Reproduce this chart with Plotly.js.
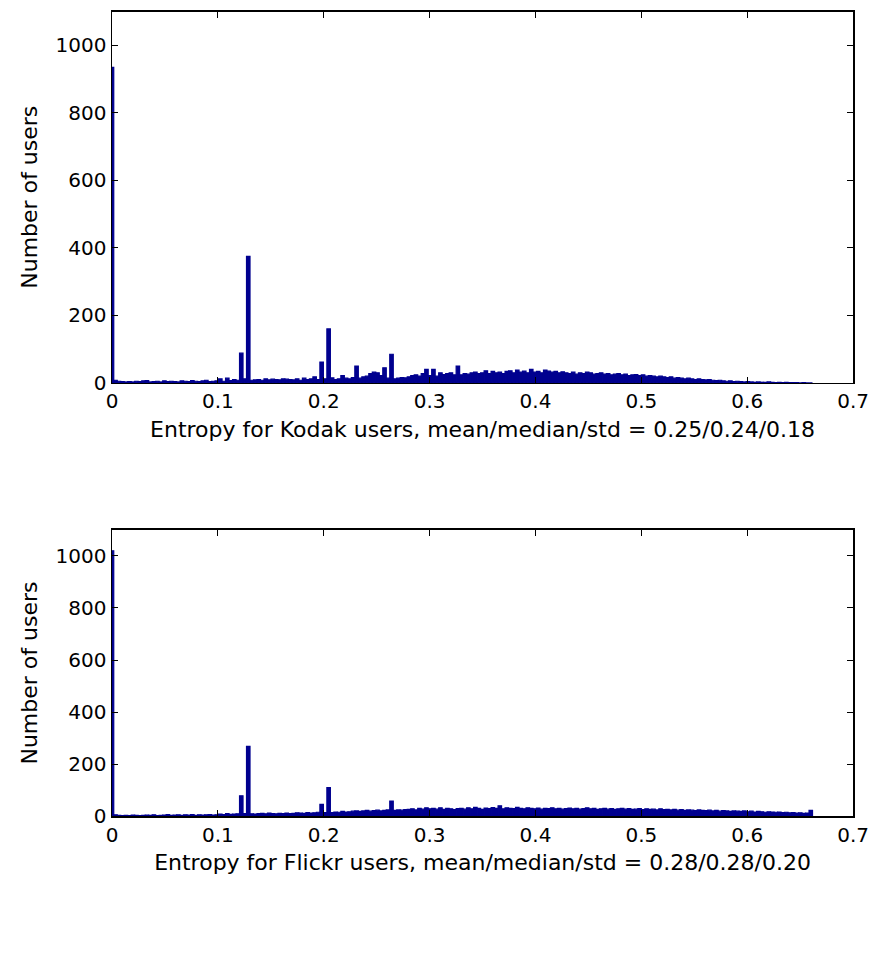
<!DOCTYPE html>
<html>
<head>
<meta charset="utf-8">
<script src="https://cdn.plot.ly/plotly-3.0.1.min.js"></script>
<style>html,body{margin:0;padding:0;background:#fff;}#chart{width:875px;height:967px;}</style>
</head>
<body>
<div id="chart"></div>
<script>
// Histogram bin width (entropy units); bin k is centred at k * binWidth
const binWidth = 0.0033;

// Kodak users: counts per bin
const kodakCounts = [
  935, 8, 5, 4, 3, 4, 3, 5, 4, 6,
  7, 3, 4, 5, 3, 6, 4, 5, 4, 3,
  6, 5, 4, 7, 5, 4, 6, 8, 4, 5,
  6, 12, 5, 14, 7, 10, 8, 88, 12, 375,
  8, 9, 10, 8, 12, 9, 11, 10, 9, 12,
  11, 10, 9, 12, 8, 14, 10, 12, 18, 10,
  62, 12, 160, 15, 10, 12, 22, 14, 12, 16,
  50, 14, 18, 20, 28, 32, 30, 22, 45, 14,
  85, 12, 14, 16, 15, 18, 22, 24, 20, 28,
  40, 22, 40, 20, 30, 25, 28, 30, 24, 50,
  24, 28, 26, 30, 32, 28, 30, 36, 28, 34,
  30, 32, 28, 34, 36, 30, 38, 32, 35, 30,
  40, 32, 34, 30, 38, 35, 32, 34, 30, 33,
  30, 28, 32, 26, 30, 28, 32, 30, 26, 28,
  30, 26, 28, 24, 26, 28, 24, 26, 22, 24,
  25, 22, 24, 20, 22, 20, 18, 20, 18, 16,
  18, 14, 16, 14, 12, 14, 12, 10, 12, 10,
  9, 10, 8, 7, 8, 6, 5, 6, 4, 5,
  4, 3, 4, 3, 2, 3, 2, 2, 3, 2,
  1, 2, 1, 2, 1, 1, 1, 0, 1, 0,
  0
];

// Flickr users: counts per bin
const flickrCounts = [
  1020, 5, 3, 2, 3, 2, 4, 3, 2, 3,
  4, 3, 5, 2, 3, 4, 6, 3, 4, 5,
  3, 5, 4, 6, 3, 5, 4, 5, 6, 4,
  5, 8, 6, 10, 7, 8, 9, 78, 10, 268,
  9, 8, 10, 11, 9, 12, 10, 9, 11, 10,
  12, 10, 11, 13, 12, 11, 14, 12, 13, 15,
  45, 14, 110, 14, 16, 15, 18, 16, 17, 19,
  20, 18, 20, 22, 19, 21, 23, 20, 22, 24,
  58, 22, 24, 23, 25, 26, 28, 24, 30, 27,
  32, 28, 30, 27, 32, 26, 30, 28, 25, 29,
  30, 27, 32, 28, 34, 30, 26, 31, 29, 33,
  30, 40, 28, 32, 30, 29, 34, 30, 28, 32,
  30, 28, 31, 27, 30, 29, 32, 28, 30, 27,
  29, 31, 28, 30, 27, 29, 32, 28, 30, 26,
  28, 30, 27, 29, 26, 28, 30, 27, 29, 26,
  27, 29, 25, 28, 26, 27, 24, 28, 25, 26,
  24, 26, 23, 25, 22, 24, 23, 21, 24, 22,
  21, 23, 20, 22, 19, 21, 20, 18, 20, 19,
  18, 20, 17, 19, 16, 18, 17, 15, 17, 16,
  15, 16, 14, 15, 13, 14, 12, 13, 11, 12,
  22
];

const xTickVals = [0, 0.1, 0.2, 0.3, 0.4, 0.5, 0.6, 0.7];
const xTickText = ["0", "0.1", "0.2", "0.3", "0.4", "0.5", "0.6", "0.7"];
const yTickVals = [0, 200, 400, 600, 800, 1000];
const yTickText = ["0", "200", "400", "600", "800", "1000"];

const kodakTitle = "Entropy for Kodak users, mean/median/std = 0.25/0.24/0.18";
const flickrTitle = "Entropy for Flickr users, mean/median/std = 0.28/0.28/0.20";
const yTitle = "Number of users";

const centers = arr => arr.map((_, k) => +(k * binWidth).toFixed(5));
const barColor = "#00008f";

const traces = [
  {type: "bar", x: centers(kodakCounts), y: kodakCounts, xaxis: "x", yaxis: "y",
   width: binWidth, marker: {color: barColor, line: {color: barColor, width: 1.2}}, hoverinfo: "x+y"},
  {type: "bar", x: centers(flickrCounts), y: flickrCounts, xaxis: "x2", yaxis: "y2",
   width: binWidth, marker: {color: barColor, line: {color: barColor, width: 1.2}}, hoverinfo: "x+y"}
];

const fontFam = "DejaVu Sans, Arial, sans-serif";
const axBase = {
  showline: true, linecolor: "#000", linewidth: 1.5, mirror: "ticks",
  ticks: "inside", ticklen: 6, tickcolor: "#000", tickwidth: 1,
  showgrid: false, zeroline: false,
  tickfont: {family: fontFam, size: 20, color: "#000"}
};
const xAx = (title, dom, anchor) => Object.assign({}, axBase, {
  domain: dom, anchor: anchor, range: [0, 0.7], tickmode: "array",
  tickvals: xTickVals, ticktext: xTickText,
  title: {text: title, font: {family: fontFam, size: 22, color: "#000"}, standoff: 9}
});
const yAx = (dom, anchor) => Object.assign({}, axBase, {
  domain: dom, anchor: anchor, range: [0, 1100], tickmode: "array",
  tickvals: yTickVals, ticktext: yTickText,
  title: {text: yTitle, font: {family: fontFam, size: 22, color: "#000"}, standoff: 12}
});

const layout = {
  width: 875, height: 967,
  margin: {l: 0, r: 0, t: 0, b: 0},
  paper_bgcolor: "#fff", plot_bgcolor: "#fff",
  showlegend: false, bargap: 0,
  xaxis: xAx(kodakTitle, [0.128, 0.975], "y"),
  yaxis: yAx([0.604, 0.988], "x"),
  xaxis2: xAx(flickrTitle, [0.128, 0.975], "y2"),
  yaxis2: yAx([0.156, 0.452], "x2")
};

Plotly.newPlot("chart", traces, layout, {displayModeBar: false, staticPlot: true});
</script>
</body>
</html>
